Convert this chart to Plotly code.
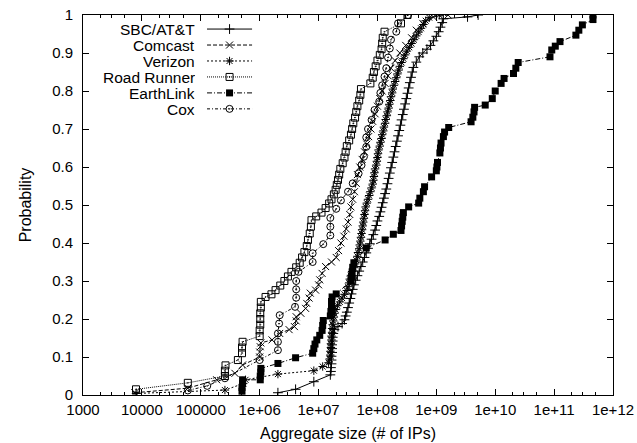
import plotly.graph_objects as go

# ---------------- data (x given as log10 of aggregate size, y = cumulative probability) -------------
sbc_log10 = [6.31, 6.61, 6.92, 7.20, 7.21, 7.21, 7.22, 7.22, 7.22, 7.23, 7.23, 7.23, 7.24, 7.24, 7.25, 7.27,
             7.33, 7.40, 7.44, 7.46, 7.48, 7.50, 7.52, 7.54, 7.56, 7.58, 7.60, 7.63, 7.66, 7.69, 7.72, 7.75,
             7.78, 7.81, 7.84, 7.87, 7.90, 7.93, 7.96, 7.98, 8.00, 8.03, 8.05, 8.07, 8.09, 8.11, 8.13, 8.15,
             8.17, 8.19, 8.21, 8.23, 8.25, 8.27, 8.29, 8.31, 8.33, 8.35, 8.37, 8.39, 8.41, 8.43, 8.45, 8.47,
             8.49, 8.51, 8.53, 8.55, 8.57, 8.59, 8.61, 8.66, 8.71, 8.77, 8.84, 8.90, 8.95, 9.00, 9.04, 9.07,
             9.10, 9.12, 9.53, 9.71]
sbc_prob = [0.006, 0.015, 0.035, 0.053, 0.062, 0.072, 0.082, 0.092, 0.102, 0.112, 0.122, 0.132, 0.142, 0.152,
            0.162, 0.172, 0.180, 0.188, 0.198, 0.208, 0.218, 0.230, 0.242, 0.254, 0.266, 0.278, 0.290, 0.302,
            0.314, 0.326, 0.338, 0.350, 0.362, 0.374, 0.386, 0.398, 0.410, 0.422, 0.434, 0.446, 0.458, 0.470,
            0.482, 0.494, 0.506, 0.518, 0.530, 0.542, 0.556, 0.570, 0.584, 0.598, 0.612, 0.626, 0.640, 0.654,
            0.668, 0.682, 0.696, 0.710, 0.724, 0.738, 0.752, 0.766, 0.780, 0.794, 0.808, 0.822, 0.836, 0.850,
            0.862, 0.876, 0.890, 0.900, 0.910, 0.920, 0.932, 0.944, 0.956, 0.968, 0.980, 0.990, 0.995, 1.0]

comcast_log10 = [3.88, 4.78, 5.27, 5.58, 5.71, 6.00, 6.00, 6.01, 6.02, 6.21, 6.34, 6.50, 6.59, 6.62, 6.62,
                 6.70, 6.78, 6.80, 6.84, 6.86, 6.95, 7.00, 7.02, 7.06, 7.12, 7.22, 7.30, 7.34, 7.38, 7.43,
                 7.47, 7.50, 7.53, 7.55, 7.58, 7.61, 7.64, 7.66, 7.70, 7.74, 7.78, 7.82, 7.85, 7.89, 7.92,
                 7.96, 8.00, 8.04, 8.08, 8.13, 8.18, 8.23, 8.30, 8.38, 8.48, 8.58, 8.66, 8.77, 8.95, 9.20]
comcast_prob = [0.006, 0.018, 0.040, 0.057, 0.079, 0.100, 0.113, 0.127, 0.137, 0.145, 0.162, 0.172, 0.180,
                0.195, 0.206, 0.215, 0.228, 0.241, 0.255, 0.268, 0.276, 0.290, 0.303, 0.320, 0.338, 0.350,
                0.362, 0.380, 0.400, 0.418, 0.437, 0.455, 0.475, 0.495, 0.515, 0.535, 0.557, 0.580, 0.600,
                0.620, 0.640, 0.660, 0.680, 0.700, 0.720, 0.740, 0.760, 0.780, 0.800, 0.820, 0.840, 0.860,
                0.880, 0.900, 0.920, 0.940, 0.960, 0.978, 0.995, 1.0]

verizon_log10 = [3.90, 5.41, 5.72, 5.76, 6.31, 6.92, 7.07, 7.17, 7.19, 7.20, 7.20, 7.21, 7.21, 7.22, 7.22,
                 7.23, 7.23, 7.24, 7.25, 7.26, 7.27, 7.29, 7.32, 7.36, 7.40, 7.44, 7.48, 7.50, 7.52, 7.53,
                 7.55, 7.57, 7.60, 7.62, 7.64, 7.66, 7.67, 7.69, 7.70, 7.71, 7.72, 7.73, 7.74, 7.75, 7.76,
                 7.77, 7.78, 7.79, 7.80, 7.82, 7.84, 7.86, 7.88, 7.90, 7.92, 7.93, 7.94, 7.95, 7.96, 7.98,
                 7.99, 8.00, 8.01, 8.02, 8.04, 8.05, 8.07, 8.08, 8.10, 8.11, 8.13, 8.14, 8.16, 8.17, 8.19,
                 8.20, 8.22, 8.23, 8.25, 8.26, 8.28, 8.30, 8.32, 8.34, 8.36, 8.38, 8.41, 8.44, 8.47, 8.50,
                 8.54, 8.58, 8.62, 8.66, 8.70, 8.74, 8.78, 8.82, 8.88, 9.05]
verizon_prob = [0.004, 0.013, 0.030, 0.040, 0.055, 0.064, 0.075, 0.085, 0.095, 0.105, 0.115, 0.125, 0.135,
                0.145, 0.155, 0.165, 0.175, 0.185, 0.195, 0.205, 0.215, 0.225, 0.235, 0.245, 0.255, 0.265,
                0.275, 0.285, 0.295, 0.305, 0.315, 0.325, 0.335, 0.345, 0.355, 0.365, 0.375, 0.385, 0.395,
                0.405, 0.415, 0.425, 0.435, 0.445, 0.455, 0.465, 0.475, 0.485, 0.495, 0.505, 0.515, 0.525,
                0.535, 0.545, 0.555, 0.565, 0.575, 0.585, 0.595, 0.605, 0.615, 0.625, 0.635, 0.645, 0.655,
                0.665, 0.675, 0.685, 0.695, 0.705, 0.715, 0.725, 0.735, 0.745, 0.755, 0.765, 0.775, 0.785,
                0.795, 0.805, 0.815, 0.825, 0.835, 0.845, 0.855, 0.865, 0.875, 0.885, 0.895, 0.905, 0.915,
                0.925, 0.935, 0.945, 0.955, 0.965, 0.975, 0.985, 0.993, 1.0]

roadrunner_log10 = [3.90, 4.78, 5.41, 5.41, 5.42, 5.63, 5.70, 5.70, 5.71, 6.00, 6.00, 6.01, 6.01, 6.01, 6.02,
                    6.02, 6.10, 6.20, 6.27, 6.35, 6.42, 6.48, 6.54, 6.62, 6.68, 6.72, 6.76, 6.80, 6.82, 6.85,
                    6.87, 6.88, 6.96, 7.05, 7.12, 7.18, 7.22, 7.26, 7.29, 7.31, 7.33, 7.35, 7.37, 7.41, 7.44,
                    7.46, 7.48, 7.52, 7.55, 7.57, 7.59, 7.62, 7.64, 7.66, 7.69, 7.71, 7.72, 7.88, 7.92, 7.94,
                    7.97, 8.00, 8.04, 8.07, 8.08, 8.09, 8.12, 8.40, 8.51]
roadrunner_prob = [0.015, 0.032, 0.050, 0.064, 0.078, 0.092, 0.110, 0.125, 0.140, 0.155, 0.170, 0.185, 0.200,
                   0.215, 0.230, 0.245, 0.258, 0.265, 0.276, 0.288, 0.300, 0.312, 0.324, 0.336, 0.348, 0.362,
                   0.376, 0.392, 0.408, 0.425, 0.443, 0.460, 0.470, 0.480, 0.492, 0.504, 0.515, 0.528, 0.540,
                   0.553, 0.566, 0.580, 0.595, 0.610, 0.625, 0.640, 0.655, 0.670, 0.685, 0.700, 0.715, 0.730,
                   0.745, 0.760, 0.775, 0.790, 0.805, 0.820, 0.835, 0.850, 0.865, 0.880, 0.895, 0.910, 0.925,
                   0.940, 0.956, 0.978, 1.0]

earthlink_log10 = [5.70, 5.70, 5.71, 5.71, 6.01, 6.01, 6.02, 6.02, 6.31, 6.61, 6.90, 6.92, 6.94, 6.97, 7.02,
                   7.06, 7.07, 7.08, 7.20, 7.21, 7.22, 7.22, 7.23, 7.30, 7.55, 7.56, 7.57, 7.58, 7.60, 7.81,
                   8.13, 8.27, 8.40, 8.41, 8.42, 8.43, 8.44, 8.53, 8.70, 8.72, 8.78, 8.80, 8.92, 9.00, 9.01,
                   9.02, 9.06, 9.07, 9.08, 9.12, 9.14, 9.21, 9.59, 9.62, 9.64, 9.65, 9.83, 9.95, 10.00, 10.10,
                   10.15, 10.31, 10.35, 10.39, 10.93, 10.96, 11.02, 11.10, 11.37, 11.42, 11.48, 11.66, 11.66]
earthlink_prob = [0.010, 0.020, 0.030, 0.040, 0.040, 0.050, 0.060, 0.070, 0.083, 0.098, 0.110, 0.122, 0.134,
                  0.145, 0.157, 0.170, 0.183, 0.196, 0.208, 0.220, 0.233, 0.246, 0.258, 0.266, 0.300, 0.312,
                  0.324, 0.336, 0.348, 0.387, 0.408, 0.423, 0.433, 0.445, 0.457, 0.468, 0.480, 0.495, 0.505,
                  0.518, 0.535, 0.548, 0.574, 0.590, 0.600, 0.612, 0.637, 0.650, 0.663, 0.680, 0.692, 0.704,
                  0.719, 0.731, 0.745, 0.757, 0.763, 0.780, 0.800, 0.820, 0.833, 0.846, 0.860, 0.875, 0.890,
                  0.908, 0.918, 0.930, 0.947, 0.960, 0.974, 0.988, 1.0]

cox_log10 = [4.78, 5.11, 5.41, 6.00, 6.31, 6.31, 6.31, 6.33, 6.34, 6.60, 6.62, 6.62, 6.62, 6.66, 6.90, 6.90,
             7.08, 7.20, 7.20, 7.20, 7.30, 7.38, 7.50, 7.58, 7.68, 7.73, 7.77, 7.81, 7.81, 7.84, 7.90, 7.95,
             8.03, 8.05, 8.08, 8.12, 8.15, 8.18, 8.21, 8.23, 8.32, 8.35, 8.52]
cox_prob = [0.012, 0.024, 0.044, 0.092, 0.118, 0.140, 0.162, 0.188, 0.210, 0.232, 0.256, 0.278, 0.300, 0.324,
            0.350, 0.373, 0.397, 0.420, 0.443, 0.466, 0.490, 0.512, 0.535, 0.557, 0.583, 0.605, 0.627, 0.653,
            0.678, 0.700, 0.724, 0.750, 0.772, 0.795, 0.815, 0.838, 0.860, 0.888, 0.912, 0.935, 0.956, 0.978, 1.0]

series_names = ["SBC/AT&T", "Comcast", "Verizon", "Road Runner", "EarthLink", "Cox"]
series_log10 = [sbc_log10, comcast_log10, verizon_log10, roadrunner_log10, earthlink_log10, cox_log10]
series_prob = [sbc_prob, comcast_prob, verizon_prob, roadrunner_prob, earthlink_prob, cox_prob]

x_tick_values = [1e3, 1e4, 1e5, 1e6, 1e7, 1e8, 1e9, 1e10, 1e11, 1e12]
x_tick_labels = ["1000", "10000", "100000", "1e+06", "1e+07", "1e+08", "1e+09", "1e+10", "1e+11", "1e+12"]
y_tick_values = [0, 0.1, 0.2, 0.3, 0.4, 0.5, 0.6, 0.7, 0.8, 0.9, 1.0]
y_tick_labels = ["0", "0.1", "0.2", "0.3", "0.4", "0.5", "0.6", "0.7", "0.8", "0.9", "1"]

# ---------------- styles ----------------
styles = [
    dict(dash="solid", symbol="cross-thin-open", size=7, mlw=1.0),
    dict(dash="4px,2px", symbol="x-thin-open", size=7, mlw=1.0),
    dict(dash="2px,2px", symbol="asterisk-open", size=7, mlw=1.0),
    dict(dash="1px,1px", symbol="square-open-dot", size=7, mlw=1.0),
    dict(dash="5px,2px,1px,2px", symbol="square", size=7, mlw=0),
    dict(dash="3px,2px,1px,2px", symbol="circle-open-dot", size=7, mlw=1.0),
]

FONT = "Liberation Sans, Arial, sans-serif"
fig = go.Figure()

for name, lx, pr, st in zip(series_names, series_log10, series_prob, styles):
    fig.add_trace(go.Scatter(
        x=[10 ** v for v in lx], y=pr, name=name, mode="lines+markers",
        line=dict(color="black", width=1, dash=st["dash"]),
        marker=dict(symbol=st["symbol"], size=st["size"], color="black",
                    line=dict(color="black", width=st["mlw"])),
        showlegend=False,
    ))

# ---------------- custom gnuplot-style key (text right-aligned, sample to the right) --------------
key_rows = [0.963, 0.921, 0.879, 0.837, 0.795, 0.753]
key_text_x = 0.215
key_line_x0, key_line_x1, key_mark_x = 0.234, 0.319, 0.2765
annotations = []
for name, row, st in zip(series_names, key_rows, styles):
    fig.add_trace(go.Scatter(
        x=[key_line_x0, key_line_x1], y=[row, row], xaxis="x2", yaxis="y2", mode="lines",
        line=dict(color="black", width=1, dash=st["dash"]), showlegend=False, hoverinfo="skip"))
    fig.add_trace(go.Scatter(
        x=[key_mark_x], y=[row], xaxis="x2", yaxis="y2", mode="markers",
        marker=dict(symbol=st["symbol"], size=st["size"], color="black",
                    line=dict(color="black", width=st["mlw"])),
        showlegend=False, hoverinfo="skip"))
    annotations.append(dict(x=key_text_x, y=row, xref="paper", yref="paper", text=name,
                            xanchor="right", yanchor="middle", showarrow=False, height=14,
                            font=dict(family=FONT, size=15.5, color="black")))

minor_vals = []
for d in range(3, 12):
    for m in (2, 3, 5):
        minor_vals.append(m * 10 ** d)

fig.update_layout(
    width=637, height=443,
    margin=dict(l=83, r=24, t=15, b=48, autoexpand=False),
    paper_bgcolor="white", plot_bgcolor="white",
    font=dict(family=FONT, size=15, color="black"),
    showlegend=False,
    annotations=annotations,
    xaxis=dict(
        type="log", range=[3, 12], tickvals=x_tick_values, ticktext=x_tick_labels,
        ticks="inside", ticklen=6, tickcolor="black", tickwidth=1,
        showline=True, linecolor="black", linewidth=1, mirror="allticks",
        showgrid=False, zeroline=False, ticklabelstandoff=1, automargin=False,
        ticklabeloverflow="allow",
        minor=dict(tickvals=minor_vals, ticks="inside", ticklen=3, tickcolor="black", showgrid=False),
        title=dict(text="Aggregate size (# of IPs)", standoff=10, font=dict(size=16)),
        tickfont=dict(size=15),
    ),
    yaxis=dict(
        range=[0, 1], tickvals=y_tick_values, ticktext=y_tick_labels,
        ticks="inside", ticklen=6, tickcolor="black", tickwidth=1,
        showline=True, linecolor="black", linewidth=1, mirror="allticks",
        showgrid=False, zeroline=False, ticklabelstandoff=6, automargin=False,
        ticklabeloverflow="allow",
        title=dict(text="Probability", standoff=16, font=dict(size=16)),
        tickfont=dict(size=15),
    ),
    xaxis2=dict(overlaying="x", range=[0, 1], visible=False, anchor="y2", fixedrange=True, automargin=False),
    yaxis2=dict(overlaying="y", range=[0, 1], visible=False, anchor="x2", fixedrange=True, automargin=False),
)

# remove the default 8px page margin so the 637x443 figure fills the window exactly
fig.write_html("out.html", config={"displayModeBar": False},
               post_script="document.body.style.margin='0';document.body.style.overflow='hidden';")
